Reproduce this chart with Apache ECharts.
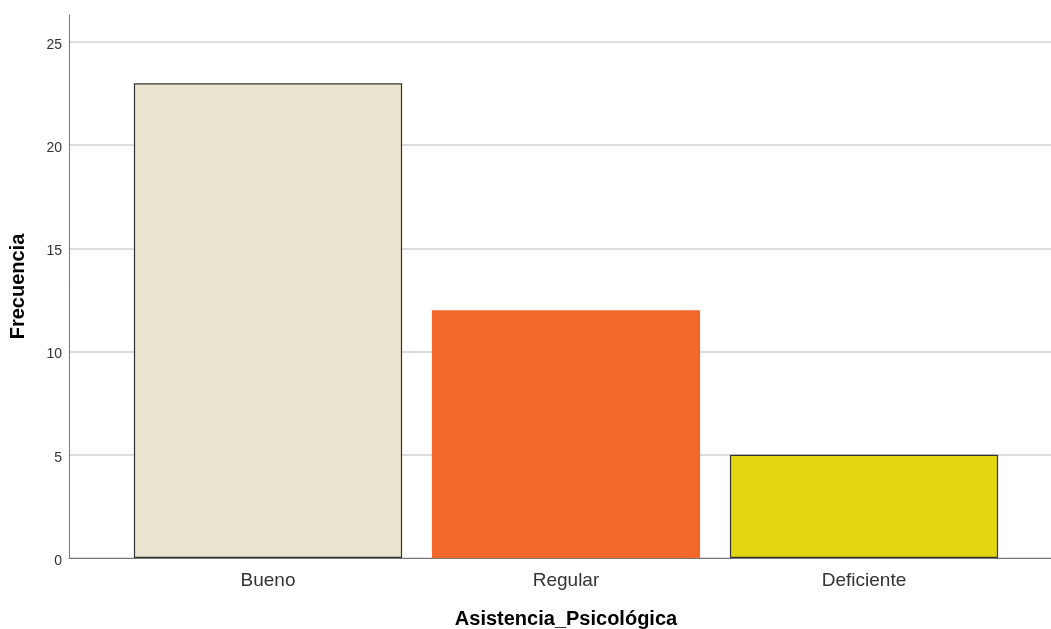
<!DOCTYPE html>
<html><head><meta charset="utf-8">
<script src="https://cdn.jsdelivr.net/npm/echarts@6/dist/echarts.min.js"></script>
<style>html,body{margin:0;padding:0;background:#fff}#c{width:1051px;height:629px}</style>
</head><body><div id="c"></div>
<script>
const categories = ['Bueno', 'Regular', 'Deficiente'];
const values = [23, 12, 5];
const barColors = ['#EAE4CF', '#F2672B', '#E2D70F'];
const barBorders = ['#333333', '#F2672B', '#333333'];
const yTicks = [0, 5, 10, 15, 20, 25];
const xTitle = 'Asistencia_Psicológica';
const yTitle = 'Frecuencia';

const font = 'Arial, "Liberation Sans", sans-serif';
const chart = echarts.init(document.getElementById('c'));
const gridBase = {top: 42, bottom: 71, outerBoundsMode: 'none', containLabel: false};
chart.setOption({
  animation: false,
  backgroundColor: '#fff',
  grid: [
    {left: 69, right: 0, top: 15, bottom: 71, outerBoundsMode: 'none', containLabel: false},
    Object.assign({left: 69, right: 0}, gridBase),
    Object.assign({left: 119, width: 894}, gridBase)
  ],
  xAxis: [
    {gridIndex: 0, type: 'value', min: 0, max: 1, axisLine: {show: true, lineStyle: {color: '#777', width: 1}}, axisTick: {show: false}, axisLabel: {show: false}, splitLine: {show: false}},
    {gridIndex: 1, type: 'value', min: 0, max: 1, show: false},
    {gridIndex: 2, type: 'category', data: categories, boundaryGap: true,
      axisLine: {show: false}, axisTick: {show: false},
      axisLabel: {color: '#333', fontSize: 19, fontFamily: font, margin: 13},
      name: xTitle, nameLocation: 'middle', nameGap: 51,
      nameTextStyle: {color: '#000', fontSize: 20, fontWeight: 'bold', fontFamily: font}}
  ],
  yAxis: [
    {gridIndex: 0, type: 'value', min: 0, max: 1, axisLine: {show: true, onZero: false, lineStyle: {color: '#777', width: 1}}, axisTick: {show: false}, axisLabel: {show: false}, splitLine: {show: false},
      name: yTitle, nameLocation: 'middle', nameGap: 41, nameRotate: 90,
      nameTextStyle: {color: '#000', fontSize: 20, fontWeight: 'bold', fontFamily: font}},
    {gridIndex: 1, type: 'value', min: yTicks[0], max: yTicks[yTicks.length - 1], interval: 5,
      axisLine: {show: false}, axisTick: {show: false},
      axisLabel: {color: '#333', fontSize: 14, fontFamily: font, margin: 7, verticalAlign: 'top', lineHeight: 6},
      splitLine: {show: true, lineStyle: {color: '#d2d2d2', width: 1.5}}},
    {gridIndex: 2, type: 'value', min: yTicks[0], max: yTicks[yTicks.length - 1], show: false}
  ],
  series: [{
    type: 'bar', xAxisIndex: 2, yAxisIndex: 2,
    barCategoryGap: '10%',
    data: values.map((v, i) => ({value: v, itemStyle: {color: barColors[i], borderColor: barBorders[i], borderWidth: 1.2}}))
  }]
});
</script></body></html>
